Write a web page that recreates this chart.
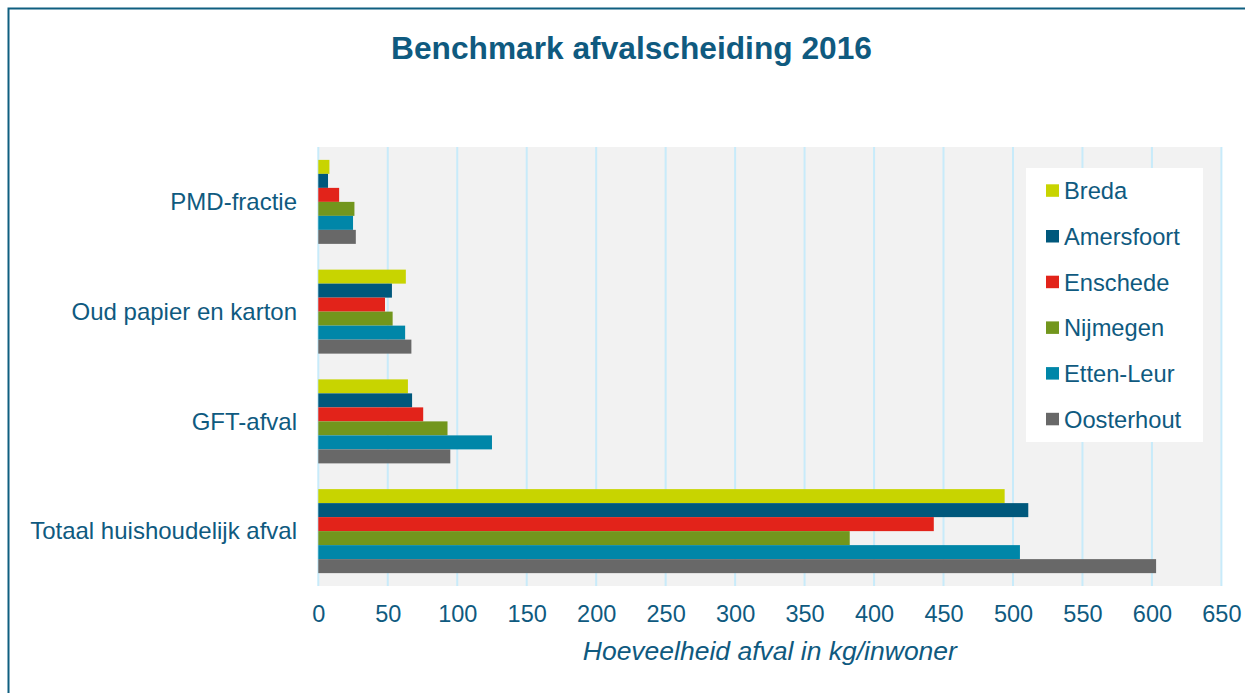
<!DOCTYPE html>
<html>
<head>
<meta charset="utf-8">
<script src="https://cdn.jsdelivr.net/npm/d3@7"></script>
<style>
  body { margin: 0; background: #fff; }
  svg { display: block; font-family: Arial, "Liberation Sans", sans-serif; }
</style>
</head>
<body>
<div class="chartContainer"></div>
<script>
// DATA
var categories = ['PMD-fractie', 'Oud papier en karton', 'GFT-afval', 'Totaal huishoudelijk afval']
var cities = ['Breda', 'Amersfoort', 'Enschede', 'Nijmegen', 'Etten-Leur', 'Oosterhout']
var breda = [8, 63, 64.5, 494]
var amersfoort = [7, 53, 67.5, 511]
var enschede = [15, 48, 75.5, 443]
var nijmegen = [26, 53.5, 93, 382.5]
var ettenLeur = [25, 62.5, 125, 505]
var oosterhout = [27, 67, 95, 603]
var xTicks = [0, 50, 100, 150, 200, 250, 300, 350, 400, 450, 500, 550, 600, 650]

var series = [breda, amersfoort, enschede, nijmegen, ettenLeur, oosterhout]
var colors = ['#c8d400', '#00587c', '#e2231a', '#72961d', '#0086a8', '#686868']
var textColor = '#0f5a7f'

// SIZING VARIABLES
var width = 1245
var height = 693
var plot = { left: 318.3, right: 1221.4, top: 147, bottom: 586 }

// SVG CANVAS
var svg = d3
  .select('div.chartContainer')
  .append('svg')
  .attr('width', width)
  .attr('height', height)

// FRAME
svg
  .append('rect')
  .attr('x', 8.5)
  .attr('y', 8.5)
  .attr('width', width + 20)
  .attr('height', height + 20)
  .attr('fill', 'none')
  .attr('stroke', '#0f5f80')
  .attr('stroke-width', 2)

// TITLE
svg
  .append('text')
  .attr('x', 631.5)
  .attr('y', 58.5)
  .attr('text-anchor', 'middle')
  .attr('font-size', 31.7)
  .attr('font-weight', 'bold')
  .attr('fill', textColor)
  .text('Benchmark afvalscheiding 2016')

// SCALES
var x = d3
  .scaleLinear()
  .domain([0, 650])
  .range([plot.left, plot.right])

var y = d3
  .scaleBand()
  .domain(categories)
  .range([plot.top, plot.bottom])
  .paddingInner(0.2346)
  .paddingOuter(0.1173)

var y1 = d3
  .scaleBand()
  .domain(cities)
  .range([0, y.bandwidth()])

// PLOT BACKGROUND
svg
  .append('rect')
  .attr('x', plot.left)
  .attr('y', plot.top)
  .attr('width', plot.right - plot.left)
  .attr('height', plot.bottom - plot.top)
  .attr('fill', '#f2f2f2')

// GRIDLINES
svg
  .append('g')
  .selectAll('line')
  .data(xTicks)
  .enter()
  .append('line')
  .attr('x1', function(d) { return x(d) })
  .attr('x2', function(d) { return x(d) })
  .attr('y1', plot.top)
  .attr('y2', plot.bottom)
  .attr('stroke', '#c8ebfa')
  .attr('stroke-width', 2)

// BARS
var rows = []
categories.forEach(function(c, i) {
  cities.forEach(function(city, j) {
    rows.push({ category: c, city: city, value: series[j][i], color: colors[j] })
  })
})

svg
  .append('g')
  .selectAll('rect')
  .data(rows)
  .enter()
  .append('rect')
  .attr('x', x(0))
  .attr('y', function(d) { return y(d.category) + y1(d.city) })
  .attr('width', function(d) { return x(d.value) - x(0) })
  .attr('height', y1.bandwidth())
  .attr('fill', function(d) { return d.color })

// X-AXIS
var xAxis = svg
  .append('g')
  .attr('transform', 'translate(0,' + plot.bottom + ')')
  .call(
    d3
      .axisBottom(x)
      .tickValues(xTicks)
      .tickSize(0)
      .tickPadding(36)
  )
xAxis.select('.domain').remove()
xAxis
  .selectAll('text')
  .attr('font-size', 23.5)
  .attr('fill', textColor)
  .attr('dy', null)
  .attr('y', 36)

// Y-AXIS
var yAxis = svg
  .append('g')
  .attr('transform', 'translate(' + 297 + ',0)')
  .call(
    d3
      .axisLeft(y)
      .tickSize(0)
      .tickPadding(0)
  )
yAxis.select('.domain').remove()
yAxis
  .selectAll('text')
  .attr('font-size', 24)
  .attr('fill', textColor)
  .attr('dy', '0.34em')

// X-AXIS LABEL
svg
  .append('text')
  .attr('x', (plot.left + plot.right) / 2)
  .attr('y', 660)
  .attr('text-anchor', 'middle')
  .attr('font-size', 26.5)
  .attr('font-style', 'italic')
  .attr('fill', textColor)
  .text('Hoeveelheid afval in kg/inwoner')

// LEGEND
var legend = svg.append('g')
legend
  .append('rect')
  .attr('x', 1026)
  .attr('y', 168)
  .attr('width', 177)
  .attr('height', 274)
  .attr('fill', '#fff')

var items = legend
  .selectAll('g.item')
  .data(cities)
  .enter()
  .append('g')
  .attr('class', 'item')
  .attr('transform', function(d, i) { return 'translate(1046,' + (184.3 + i * 45.7) + ')' })

items
  .append('rect')
  .attr('width', 13)
  .attr('height', 12.5)
  .attr('fill', function(d, i) { return colors[i] })

items
  .append('text')
  .attr('x', 18)
  .attr('y', 15)
  .attr('font-size', 23.7)
  .attr('fill', textColor)
  .text(function(d) { return d })
</script>
</body>
</html>
